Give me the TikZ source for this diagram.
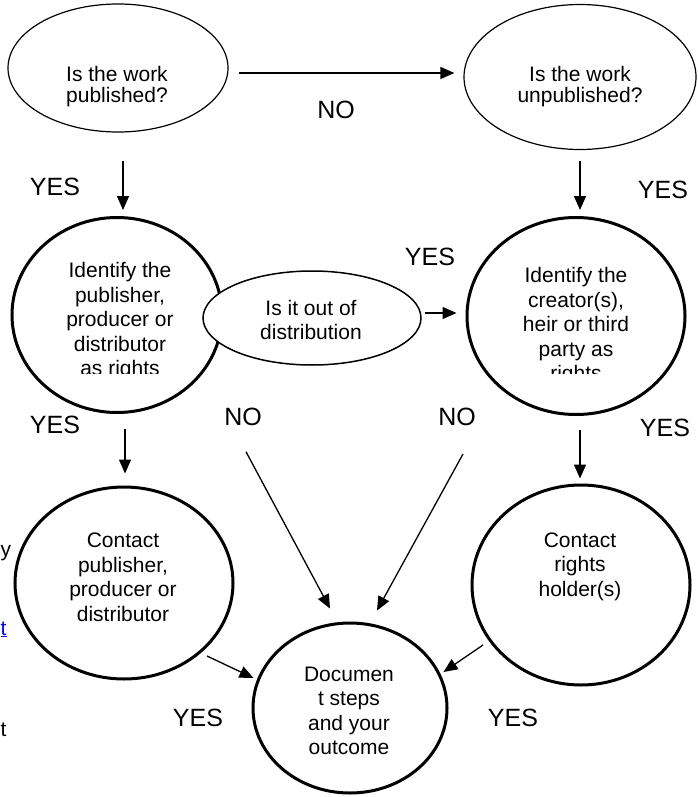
\documentclass[tikz,border=0pt]{standalone}
\usepackage{fontspec}
\setmainfont{Liberation Sans}
\usetikzlibrary{shapes.geometric,arrows.meta}

\begin{document}
\begin{tikzpicture}[x=1pt,y=-1pt,
			thinoval/.style={shape=ellipse, draw, line width=1.2pt, inner sep=0pt},
			thickoval/.style={shape=ellipse, draw, line width=3pt, inner sep=0pt},
			txt/.style={font=\fontsize{21}{24.5}\selectfont, align=center, inner sep=0pt},
			lbl/.style={font=\fontsize{25}{30}\selectfont, inner sep=0pt},
			arr/.style={line width=1.3pt, -{Triangle[length=14pt,width=12pt]}}]
			\useasboundingbox (0,0) rectangle (697,797);
			% questions at the top
			\node (pub) at (118,68) [thinoval, minimum width=220pt, minimum height=128pt] {};
			\node (unpub) at (580,77) [thinoval, minimum width=232pt, minimum height=145pt] {};
			\node (pubtxt) at (117,87) [txt, font=\fontsize{21}{21}\selectfont] {Is the work\\published?};
			\node (unpubtxt) at (580,87) [txt, font=\fontsize{21}{21}\selectfont] {Is the work\\unpublished?};
			% rights holders
			\node (idpub) at (117,315) [thickoval, minimum width=210pt, minimum height=195pt] {};
			\node (idcre) at (576,316) [thickoval, minimum width=218pt, minimum height=197pt] {};
			\begin{scope}
				\clip (0,0) rectangle (697,373);
				\node (idpubtxt) at (120,321.5) [txt] {Identify the\\publisher,\\producer or\\distributor\\as rights};
				\node (idcretxt) at (576,326.5) [txt] {Identify the\\creator(s),\\heir or third\\party as\\rights};
			\end{scope}
			\node (oodist) at (312,318) [thinoval, line width=1.5pt, fill=white, minimum width=218pt, minimum height=94pt] {};
			\node (oodisttxt) at (311,320) [txt] {Is it out of\\distribution};
			% contact and outcome
			\node (conpub) at (124,583) [thickoval, minimum width=218pt, minimum height=192pt] {};
			\node (conrig) at (581,585) [thickoval, minimum width=218pt, minimum height=200pt] {};
			\node (doc) at (350,708) [thickoval, minimum width=194pt, minimum height=170pt] {};
			\node (conpubtxt) at (123,577.3) [txt] {Contact\\publisher,\\producer or\\distributor};
			\node (conrigtxt) at (580,566.5) [txt] {Contact\\rights\\holder(s)};
			\node (doctxt) at (349,711) [txt] {Documen\\t steps\\and your\\outcome};
			% connectors
			\draw[arr] ([shift={(10,5)}]pub.east) -- ([shift={(-9,-4)}]unpub.west);
			\draw[arr] ([shift={(5,28)}]pub.south) -- ([shift={(6,-6)}]idpub.north);
			\draw[arr] ([shift={(0,11)}]unpub.south) -- ([shift={(4,-6)}]idcre.north);
			\draw[arr] ([shift={(3,-5)}]oodist.east) -- ([shift={(-9,-3)}]idcre.west);
			\draw[arr] ([shift={(8,15)}]idpub.south) -- ([shift={(1,-12)}]conpub.north);
			\draw[arr] ([shift={(4,14)}]idcre.south) -- ([shift={(-1,-5)}]conrig.north);
			\draw[arr] ([shift={(-66,86)}]oodist.south) -- ([shift={(-20,-13)}]doc.north);
			\draw[arr] ([shift={(-113,38)}]idcre.south) -- ([shift={(27,-11)}]doc.north);
			\draw[arr] ([shift={(83,73)}]conpub.center) -- ([shift={(2,-30)}]doc.west);
			\draw[arr] ([shift={(-98,60)}]conrig.center) -- ([shift={(-5,-36)}]doc.east);
			% answers
			\node (no1) at (336,110) [lbl] {NO};
			\node (yes1) at (55,187) [lbl] {YES};
			\node (yes2) at (663,190) [lbl] {YES};
			\node (yes3) at (430,257) [lbl] {YES};
			\node (no2) at (243,417) [lbl] {NO};
			\node (no3) at (457,417) [lbl] {NO};
			\node (yes4) at (55,425) [lbl] {YES};
			\node (yes5) at (665,428) [lbl] {YES};
			\node (yes6) at (198,718) [lbl] {YES};
			\node (yes7) at (513,718) [lbl] {YES};
			% text at the left edge
			\node (edgey) at (0.5,556) [txt, anchor=base west] {y};
			\node (edget) at (0.5,635) [txt, anchor=base west, text=blue] {\underline{t}};
			\node (edgett) at (0.5,736) [txt, anchor=base west] {t};
		\end{tikzpicture}
\end{document}
